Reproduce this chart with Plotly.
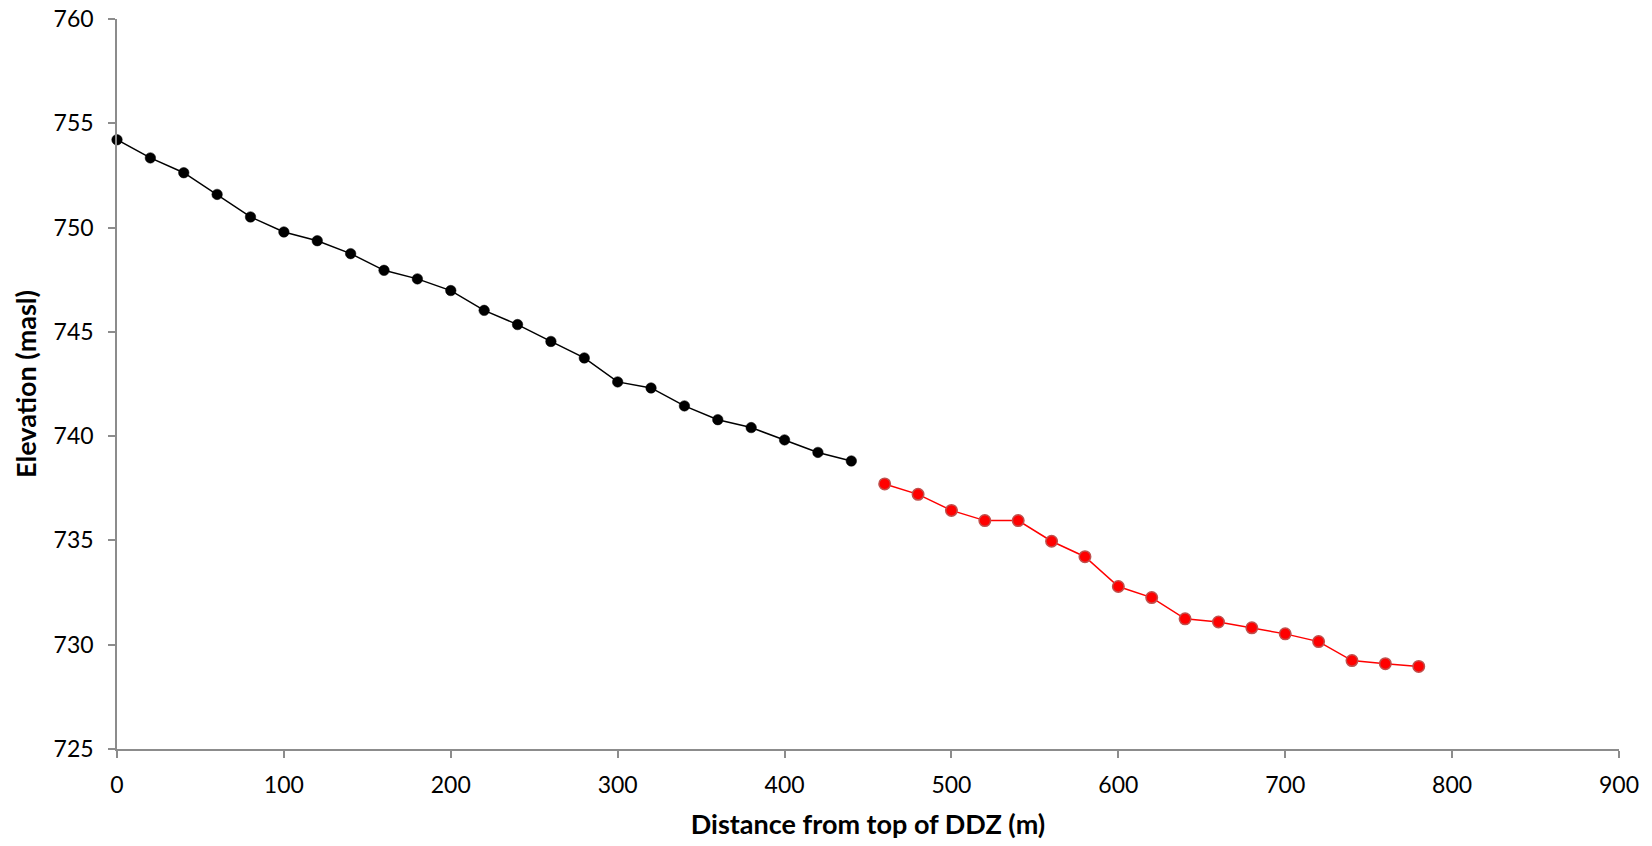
import plotly.graph_objects as go

# Upper reach (black)
dist_upper = [0, 20, 40, 60, 80, 100, 120, 140, 160, 180, 200, 220, 240, 260,
              280, 300, 320, 340, 360, 380, 400, 420, 440]
elev_upper = [754.21, 753.34, 752.63, 751.59, 750.51, 749.79, 749.37, 748.75,
              747.95, 747.54, 746.98, 746.03, 745.35, 744.54, 743.75, 742.60,
              742.31, 741.45, 740.79, 740.41, 739.82, 739.22, 738.81]

# Lower reach (red)
dist_lower = [460, 480, 500, 520, 540, 560, 580, 600, 620, 640, 660, 680,
              700, 720, 740, 760, 780]
elev_lower = [737.71, 737.21, 736.44, 735.95, 735.95, 734.96, 734.22, 732.79,
              732.26, 731.24, 731.09, 730.81, 730.52, 730.15, 729.24, 729.09,
              728.96]

x_ticks = [0, 100, 200, 300, 400, 500, 600, 700, 800, 900]
y_ticks = [725, 730, 735, 740, 745, 750, 755, 760]

FONT = "Lato, Open Sans, sans-serif"

fig = go.Figure()
fig.add_trace(go.Scatter(
    x=dist_upper, y=elev_upper, mode="lines+markers",
    line=dict(color="black", width=1.5),
    marker=dict(color="black", size=10.5, line=dict(color="black", width=0.5)),
    showlegend=False, cliponaxis=False))
fig.add_trace(go.Scatter(
    x=dist_lower, y=elev_lower, mode="lines+markers",
    line=dict(color="#ff0000", width=1.5),
    marker=dict(color="#ff0000", size=11.5, line=dict(color="#c0504d", width=1.5)),
    showlegend=False, cliponaxis=False))

axis_common = dict(
    showline=True, linecolor="#8c8c8c", linewidth=1.5,
    ticks="outside", tickcolor="#8c8c8c", ticklen=7, tickwidth=1.5,
    showgrid=False, zeroline=False,
    tickfont=dict(family=FONT, size=23, color="black"),
)

fig.update_xaxes(range=[0, 900], tickvals=x_ticks, ticklabelstandoff=8, **axis_common,
                 title=dict(text="<b>Distance from top of DDZ (m)</b>",
                            font=dict(family=FONT, size=27, color="black"),
                            standoff=18))
fig.update_yaxes(range=[725, 760], tickvals=y_ticks, ticklabelstandoff=10, **axis_common,
                 title=dict(text="<b>Elevation (masl)</b>",
                            font=dict(family=FONT, size=27, color="black"),
                            standoff=9))

fig.update_layout(
    width=1652, height=846,
    margin=dict(l=117, r=33, t=19, b=97, autoexpand=False),
    paper_bgcolor="white", plot_bgcolor="white",
)

fig.write_html("out.html")
